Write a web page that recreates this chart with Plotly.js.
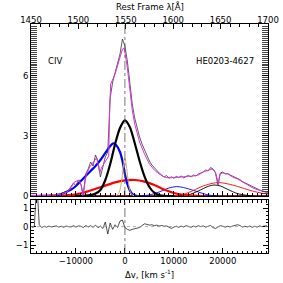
<!DOCTYPE html>
<html><head><meta charset="utf-8">
<script src="https://cdn.plot.ly/plotly-3.0.1.min.js"></script>
<style>html,body{margin:0;padding:0;background:#fff}#plot{width:283px;height:283px}</style>
</head><body><div id="plot"></div>
<script>
// ---- data (velocity in km/s, flux in arbitrary units) ----
const specV = [-19000,-18500,-18000,-17500,-17000,-16500,-16000,-15500,-15000,-14500,
 -14000,-13500,-13000,-12500,-12000,-11500,-11000,-10500,-10000,-9500,
 -9000,-8500,-8000,-7500,-7000,-6500,-6000,-5500,-5000,-4500,
 -4000,-3500,-3000,-2500,-2000,-1500,-1000,-500,0,500,
 1000,1500,2000,2500,3000,3500,4000,4500,5000,5500,
 6000,6500,7000,7500,8000,8500,9000,9500,10000,10500,
 11000,11500,12000,12500,13000,13500,14000,14500,15000,15500,
 16000,16500,17000,17500,18000,18500,19000,19500,20000,20500,
 21000,21500,22000,22500,23000,23500,24000,24500,25000,25500,
 26000,26500,27000,27500,28000,28500,29000];
const specF = [0.03,0.02,0.04,0.03,0.05,0.03,0.06,0.04,0.07,0.05,
 0.09,0.08,0.13,0.17,0.22,0.3,0.45,0.65,0.5,0.8,
 0.6,0.08,1.1,1.35,1.7,1.5,2.05,1.75,0.95,1.5,
 1.95,2.2,4.9,5.7,6.2,6.6,7.1,7.85,7.5,6.75,
 5.5,4.6,3.9,3.35,2.95,2.6,2.3,2.0,1.75,1.55,
 1.4,1.25,1.15,1.05,0.95,1.02,0.9,0.96,0.88,0.98,
 0.92,1.0,0.9,0.98,1.03,0.95,1.05,1.0,1.1,1.15,
 1.2,1.3,1.25,1.42,1.35,1.15,0.55,1.15,1.2,1.1,
 1.12,1.05,1.0,0.95,0.9,0.82,0.72,0.66,0.58,0.5,
 0.45,0.38,0.35,0.3,0.25,0.22,0.18];
const residF = [-0.05,0.0,2.5,0.1,-0.05,0.02,-0.03,0.03,-0.02,0.01,
 0.04,-0.03,0.02,-0.04,0.03,0.0,-0.02,0.05,-0.03,0.04,
 0.02,-0.05,0.06,-0.02,0.05,-0.04,0.08,-0.06,0.03,-0.1,
 0.25,-0.4,0.2,-0.15,0.1,-0.05,0.3,0.35,-0.05,-0.15,
 -0.2,-0.15,-0.12,-0.1,-0.05,0.05,0.15,0.12,0.08,0.1,
 0.05,0.08,0.03,0.06,0.02,0.04,-0.05,-0.1,-0.03,0.02,
 -0.04,0.03,-0.02,0.05,0.01,-0.04,0.03,-0.02,0.05,0.0,
 0.04,-0.03,0.02,0.06,-0.05,-0.1,-0.02,0.05,0.02,-0.03,
 0.02,-0.02,0.03,0.08,0.1,0.06,-0.03,0.02,-0.02,0.03,
 -0.04,0.02,-0.03,0.04,0.0,0.03,0.05];

const modelV = [-19180,-16000,-14000,-13000,-12000,-11300,-10300,-9300,-8900,-8600,
 -8300,-7900,-7200,-6500,-5800,-5400,-5150,-4800,-4300,-3700,
 -3300,-3100,-2900,-2000,-1000,-500,-200,0,500,1000,
 1500,2000,3000,4000,5000,6000,7000,8000,9000,10000,
 11000,12000,13000,14000,15000,16000,17000,17800,18500,18800,
 19100,19400,20000,21000,22000,23000,24000,25000,26000,27000,
 28000,29230];
const modelF = [0.02,0.03,0.06,0.1,0.18,0.3,0.7,0.8,0.5,0.02,
 0.5,1.05,1.45,1.7,1.9,1.5,1.15,1.4,1.6,1.9,
 2.0,4.5,5.6,6.1,6.9,7.35,7.4,7.2,6.4,5.2,
 4.3,3.6,2.7,2.1,1.6,1.3,1.1,0.95,0.9,0.92,
 0.95,0.95,0.98,1.0,1.05,1.2,1.3,1.35,1.2,0.9,
 0.6,1.1,1.15,1.1,0.95,0.85,0.7,0.55,0.42,0.32,
 0.25,0.17];

const blueThickV = [-14000,-13000,-12000,-11000,-10000,-9000,-8000,-7000,-6000,-5000,-4000,-3000,-2400,-1800,-1000,-500,0,500,1000,1500,2000,2500];
const blueThickF = [0.04,0.1,0.2,0.32,0.5,0.75,1.0,1.25,1.5,1.8,2.15,2.5,2.63,2.55,2.2,1.75,1.1,0.6,0.28,0.1,0.03,0];
const blackThickV = [-10000,-8000,-7000,-6000,-5000,-4000,-3000,-2000,-1000,0,1000,2000,3000,4000,5000,6000,7000,8000,10000];
const blackThickF = [0,0.02,0.05,0.12,0.3,0.8,1.6,2.6,3.4,3.78,3.45,2.65,1.75,0.98,0.45,0.17,0.05,0.01,0];
const redThickV = [-16000,-14000,-12000,-10000,-8000,-6000,-4000,-2000,0,2000,4000,6000,8000,10000,12000,14000,16000];
const redThickF = [0,0.01,0.03,0.08,0.2,0.36,0.52,0.68,0.78,0.8,0.72,0.55,0.32,0.15,0.06,0.02,0];
const narrowV = [-2000,-1400,-1000,-600,-300,0,300,600,1000,1400,2000];
const narrowF = [0,0.08,0.3,0.9,1.5,1.9,1.5,0.9,0.3,0.08,0];
const blueThinV = [3000,5000,7000,9000,10600,12000,14000,16000,17500,19000];
const blueThinF = [0,0.05,0.2,0.4,0.47,0.42,0.28,0.12,0.03,0];
const redThinV = [9000,11000,12500,14000,16000,18000,19000,20000,22000,24000,26000,28000,29230];
const redThinF = [0,0.04,0.12,0.28,0.5,0.64,0.67,0.65,0.55,0.4,0.25,0.14,0.1];
const blackThinV = [11000,13000,15000,17000,18200,19500,21000,23000,25000,26500];
const blackThinF = [0,0.06,0.25,0.48,0.55,0.5,0.33,0.12,0.03,0];
const baseV = [-19180,29230];
const baseF = [0,0];

const vRange = [-19180, 29230];
const lamRange = [1450, 1700];
const velTicks = [-10000, 0, 10000, 20000];
const lamTicks = [1450, 1500, 1550, 1600, 1650, 1700];
const mainTicks = [0, 3, 6];
const resTicks = [-1, 0, 1];

// ---- traces ----
function ln(x, y, color, width, shape, xa, ya) {
  return {x: x, y: y, type: 'scatter', mode: 'lines', xaxis: xa || 'x2', yaxis: ya || 'y2',
    line: {color: color, width: width, shape: shape || 'spline', smoothing: 0.8},
    hoverinfo: 'skip', showlegend: false};
}
const traces = [
  ln(baseV, baseF, '#8b1a1a', 2, 'linear'),
  ln(blueThinV, blueThinF, '#0000ff', 0.9),
  ln(redThinV, redThinF, '#ff0000', 0.9),
  ln(blackThinV, blackThinF, '#000000', 0.9),
  ln(redThickV, redThickF, '#ff0000', 2.2),
  ln(blueThickV, blueThickF, '#0000ff', 2.2),
  ln(narrowV, narrowF, '#d6a85c', 1),
  ln(blackThickV, blackThickF, '#000000', 2.2),
  ln(specV, specF, '#333333', 0.8, 'linear'),
  ln(modelV, modelF, '#dd33dd', 1, 'linear'),
  ln(specV, residF, '#222222', 0.8, 'linear', 'x', 'y'),
  // carrier for the top wavelength axis (invisible)
  {x: lamRange, y: baseF, type: 'scatter', mode: 'lines', xaxis: 'x3', yaxis: 'y2',
   line: {width: 0, color: 'rgba(0,0,0,0)'}, hoverinfo: 'skip', showlegend: false}
];

const F = {family: 'DejaVu Sans, Liberation Sans, sans-serif', size: 8.5, color: '#000'};
const common = {showgrid: false, zeroline: false, showline: true, linecolor: '#000', linewidth: 1,
  ticks: 'inside', tickcolor: '#000', tickfont: F, tickformat: 'd'};

const layout = {
  width: 283, height: 283,
  margin: {l: 31, r: 15, t: 24, b: 30},
  paper_bgcolor: '#fff', plot_bgcolor: '#fff',
  showlegend: false,
  xaxis: Object.assign({}, common, {anchor: 'y', domain: [0, 1], range: vRange,
    tickvals: velTicks, ticklen: 5, mirror: 'allticks',
    minor: {dtick: 1000, tick0: 0, ticklen: 2.5, ticks: 'inside', tickcolor: '#000'}}),
  yaxis: Object.assign({}, common, {anchor: 'x', domain: [0, 0.2314], range: [-1.43, 1.44],
    tickvals: resTicks, ticklen: 5, mirror: 'allticks',
    minor: {dtick: 0.2, tick0: 0, ticklen: 2.5, ticks: 'inside', tickcolor: '#000'}}),
  xaxis2: Object.assign({}, common, {anchor: 'y2', domain: [0, 1], range: vRange,
    tickvals: velTicks, ticklen: 5, showticklabels: false, mirror: false,
    minor: {dtick: 1000, tick0: 0, ticklen: 2.5, ticks: 'inside', tickcolor: '#000'}}),
  xaxis3: Object.assign({}, common, {anchor: 'y2', overlaying: 'x2', side: 'top', range: lamRange,
    tickvals: lamTicks, ticklen: 5, ticklabelstandoff: -3,
    minor: {dtick: 10, tick0: 1450, ticklen: 2.5, ticks: 'inside', tickcolor: '#000'}}),
  yaxis2: Object.assign({}, common, {anchor: 'x2', domain: [0.249, 1], range: [0, 8.6],
    tickvals: mainTicks, ticklen: 6, mirror: 'allticks',
    minor: {dtick: 0.1, tick0: 0, ticklen: 3, ticks: 'inside', tickcolor: '#444'}}),
  shapes: [
    {type: 'line', xref: 'x2', yref: 'y2 domain', x0: 0, x1: 0, y0: 0, y1: 1,
     line: {color: '#555', width: 0.8, dash: 'dashdot'}},
    {type: 'line', xref: 'x', yref: 'y domain', x0: 0, x1: 0, y0: 0, y1: 1,
     line: {color: '#555', width: 0.8, dash: 'dashdot'}},
    {type: 'line', xref: 'x domain', yref: 'y', x0: 0, x1: 1, y0: 0, y1: 0,
     line: {color: '#999', width: 0.8, dash: 'dot'}}
  ],
  annotations: [
    {text: 'CIV', xref: 'paper', yref: 'paper', x: 0.101, y: 0.84, yanchor: 'middle', xanchor: 'center', showarrow: false, font: F},
    {text: 'HE0203-4627', xref: 'paper', yref: 'paper', x: 0.817, y: 0.84, yanchor: 'middle', xanchor: 'center', showarrow: false, font: F},
    {text: 'Rest Frame λ[Å]', xref: 'paper', yref: 'paper', x: 0.502, y: 1.075, yanchor: 'middle', xanchor: 'center', showarrow: false, font: F},
    {text: 'Δv, [km s<sup>-1</sup>]', xref: 'paper', yref: 'paper', x: 0.502, y: -0.09, yanchor: 'middle', xanchor: 'center', showarrow: false, font: F}
  ]
};

Plotly.newPlot('plot', traces, layout, {staticPlot: true, displayModeBar: false});
</script></body></html>
